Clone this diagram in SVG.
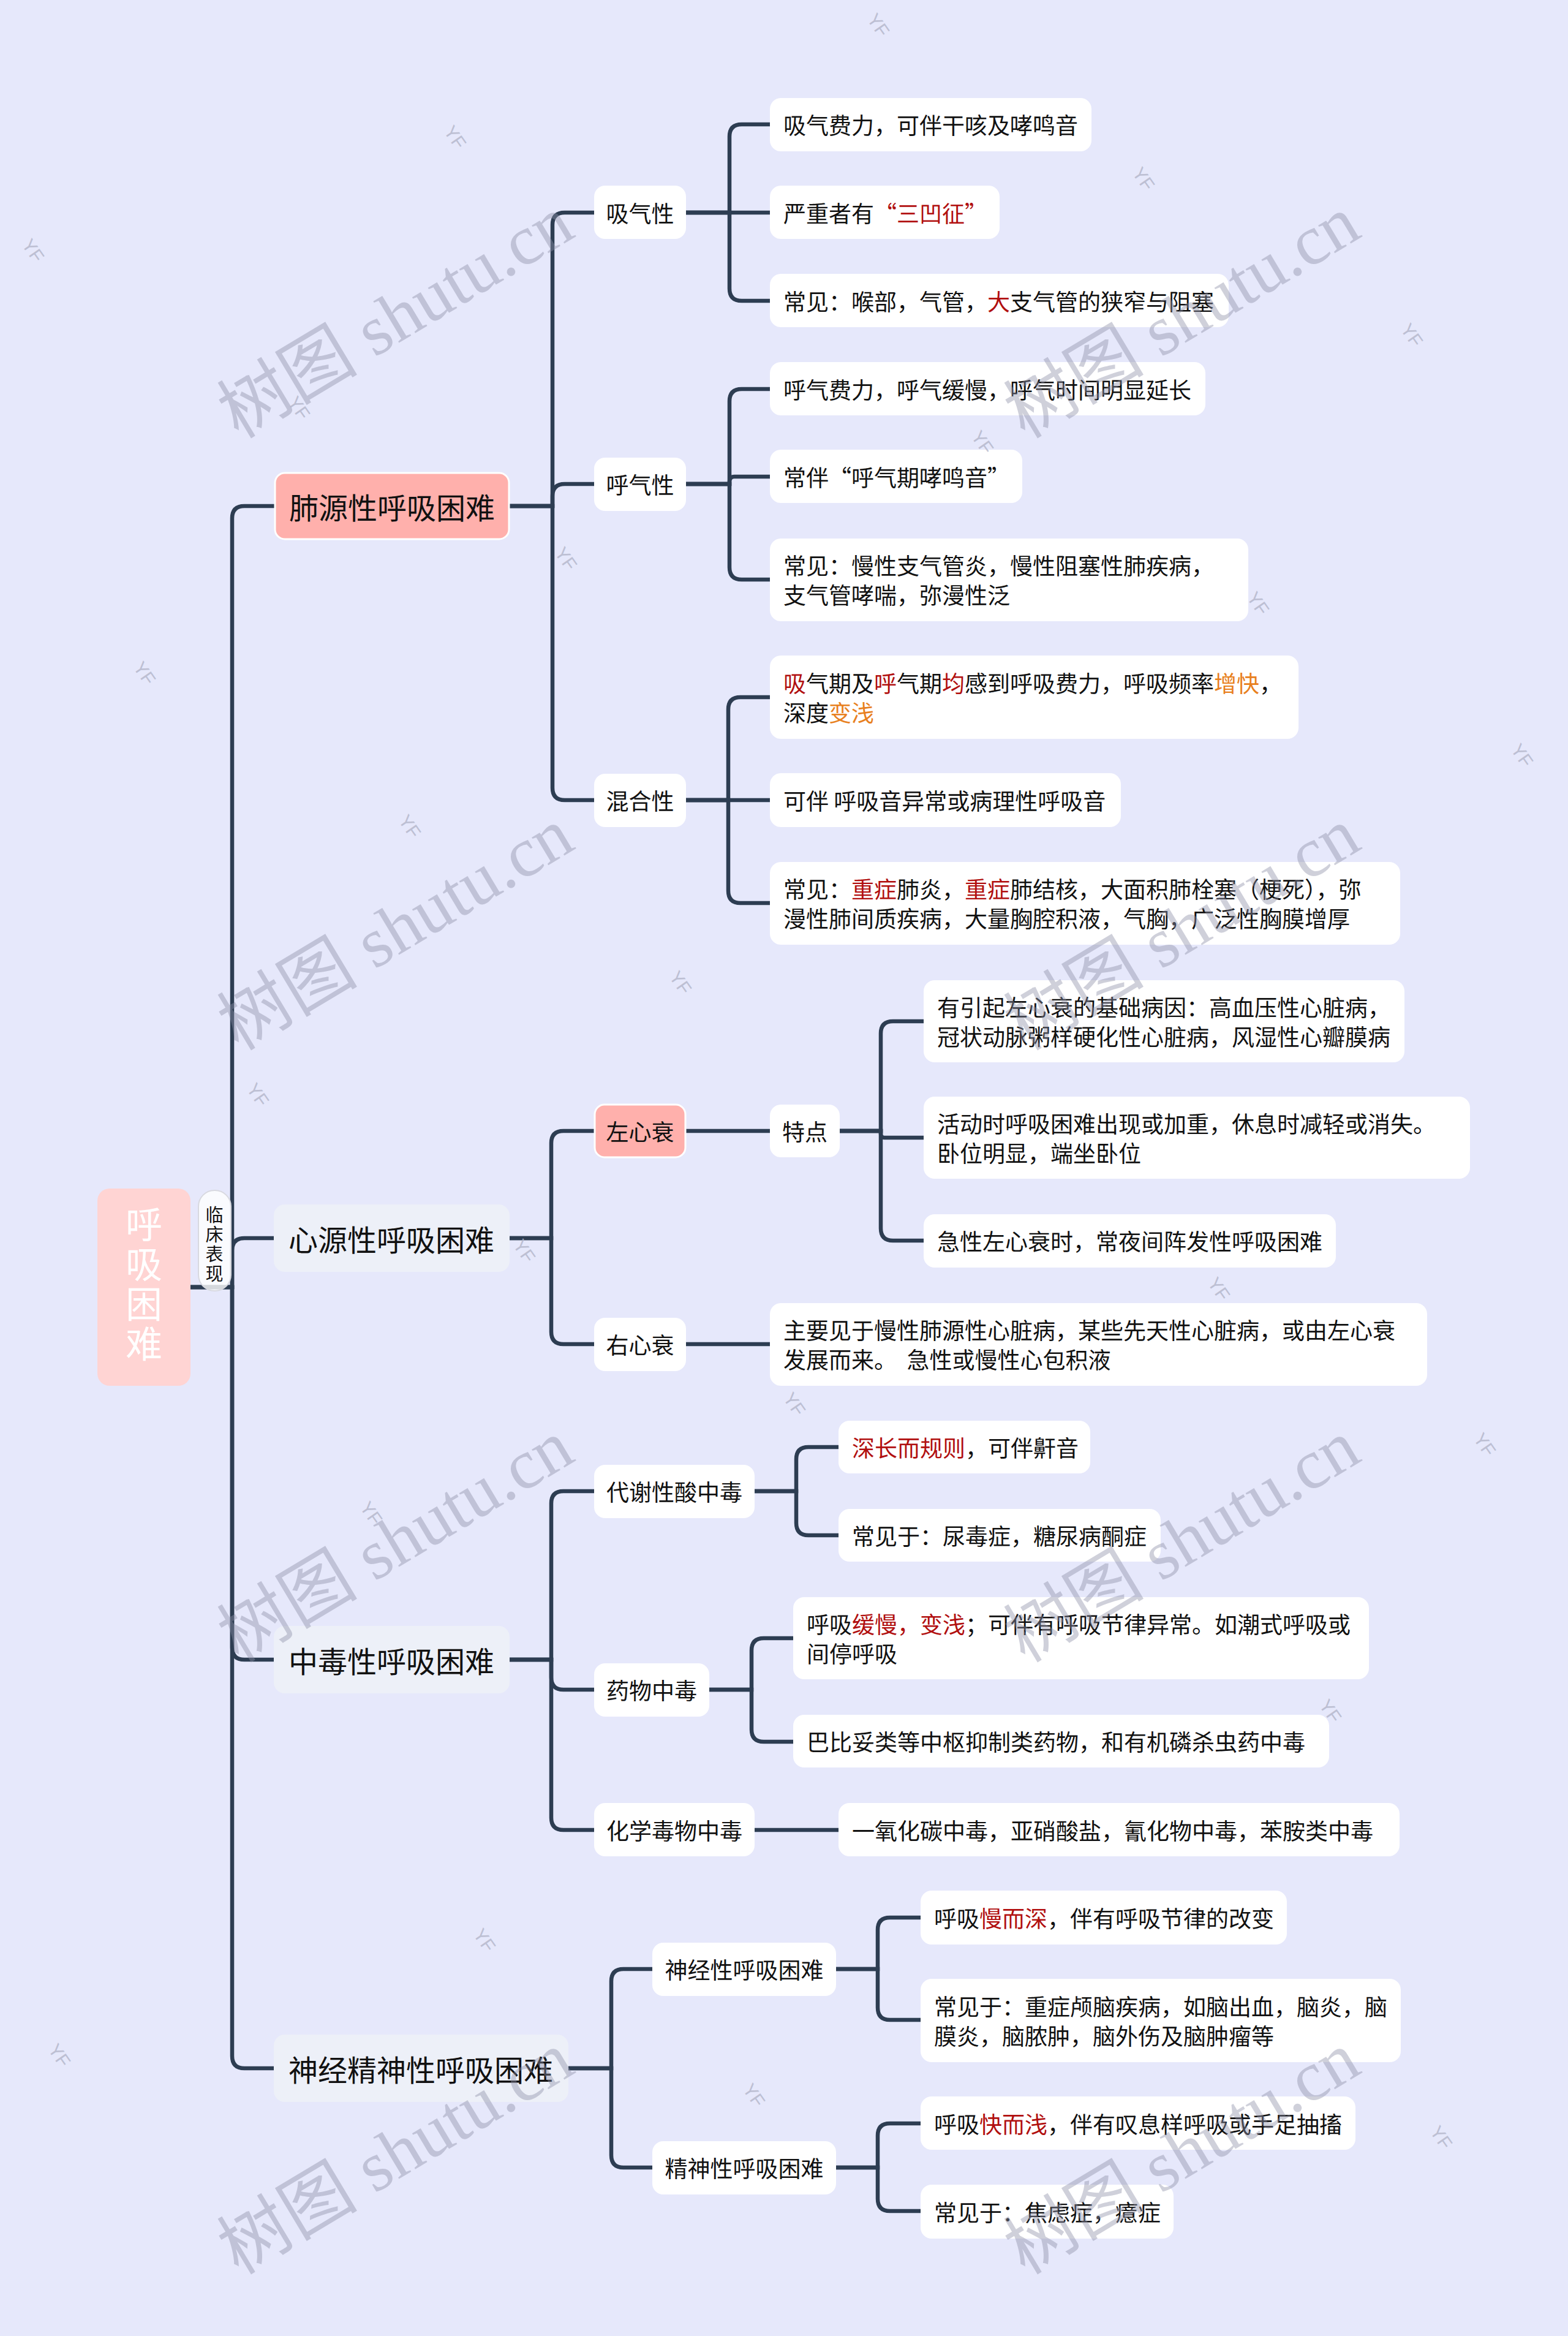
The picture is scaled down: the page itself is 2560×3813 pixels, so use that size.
<svg xmlns="http://www.w3.org/2000/svg" width="2560" height="3813" viewBox="0 0 2560 3813">
<style>
text{font-family:"Noto Sans CJK SC","Noto Sans",sans-serif;fill:#111;dominant-baseline:central}
.l1t{font-size:48px;text-anchor:middle}
.l2t{font-size:37px;text-anchor:middle}
.t{font-size:37px}
.r{fill:#b10f0f}
.o{fill:#e8801e}
.box{fill:#fff;rx:18px}
.pink{fill:#ffb0ac;stroke:#fff;stroke-width:3;rx:16px}
.gray{fill:#edf0f8;rx:18px}
.ln{fill:none;stroke:#2d3d52;stroke-width:6.5;stroke-linecap:butt}
.wm{font-family:"Liberation Serif","Noto Sans CJK SC",serif;font-size:115px;fill:#8e90a8;opacity:0.42;text-anchor:middle}
.yf{font-family:"Liberation Sans",sans-serif;font-size:30px;fill:#b3b6ca;opacity:0.8;text-anchor:middle}
.vt{writing-mode:vertical-rl;text-anchor:start}
</style>
<rect x="0" y="0" width="2560" height="3813" fill="#e6e8fb"/>

<g id="connectors">
<path class="ln" d="M311 2101 H379 V846 Q379 826 399 826 H449"/>
<path class="ln" d="M311 2101 H379 V2041 Q379 2021 399 2021 H447"/>
<path class="ln" d="M311 2101 H379 V2689 Q379 2709 399 2709 H447"/>
<path class="ln" d="M311 2101 H379 V3356 Q379 3376 399 3376 H447"/>
<path class="ln" d="M831 826 H902 V367 Q902 347 922 347 H970"/>
<path class="ln" d="M831 826 H902 V810 Q902 790 922 790 H970"/>
<path class="ln" d="M831 826 H902 V1286 Q902 1306 922 1306 H970"/>
<path class="ln" d="M1120 347 H1191 V223 Q1191 203 1211 203 H1257"/>
<path class="ln" d="M1120 347 H1257"/>
<path class="ln" d="M1120 347 H1191 V471 Q1191 491 1211 491 H1257"/>
<path class="ln" d="M1120 790 H1191 V655 Q1191 635 1211 635 H1257"/>
<path class="ln" d="M1120 790 H1191 V786 Q1191 778 1199 778 H1257"/>
<path class="ln" d="M1120 790 H1191 V926 Q1191 946 1211 946 H1257"/>
<path class="ln" d="M1120 1306 H1189 V1158 Q1189 1138 1209 1138 H1257"/>
<path class="ln" d="M1120 1306 H1257"/>
<path class="ln" d="M1120 1306 H1189 V1454 Q1189 1474 1209 1474 H1257"/>
<path class="ln" d="M832 2021 H900 V1866 Q900 1846 920 1846 H971"/>
<path class="ln" d="M832 2021 H900 V2174 Q900 2194 920 2194 H970"/>
<path class="ln" d="M1119 1846 H1257"/>
<path class="ln" d="M1371 1846 H1438 V1687 Q1438 1667 1458 1667 H1508"/>
<path class="ln" d="M1371 1846 H1438 V1851 Q1438 1857 1444 1857 H1508"/>
<path class="ln" d="M1371 1846 H1438 V2005 Q1438 2025 1458 2025 H1508"/>
<path class="ln" d="M1120 2194 H1257"/>
<path class="ln" d="M832 2709 H900 V2454 Q900 2434 920 2434 H970"/>
<path class="ln" d="M832 2709 H900 V2738 Q900 2758 920 2758 H970"/>
<path class="ln" d="M832 2709 H900 V2967 Q900 2987 920 2987 H970"/>
<path class="ln" d="M1232 2434 H1300 V2382 Q1300 2362 1320 2362 H1369"/>
<path class="ln" d="M1232 2434 H1300 V2486 Q1300 2506 1320 2506 H1369"/>
<path class="ln" d="M1158 2758 H1227 V2694 Q1227 2674 1247 2674 H1295"/>
<path class="ln" d="M1158 2758 H1227 V2823 Q1227 2843 1247 2843 H1295"/>
<path class="ln" d="M1232 2987 H1369"/>
<path class="ln" d="M928 3376 H998 V3234 Q998 3214 1018 3214 H1065"/>
<path class="ln" d="M928 3376 H998 V3518 Q998 3538 1018 3538 H1065"/>
<path class="ln" d="M1365 3214 H1433 V3150 Q1433 3130 1453 3130 H1503"/>
<path class="ln" d="M1365 3214 H1433 V3277 Q1433 3297 1453 3297 H1503"/>
<path class="ln" d="M1365 3538 H1433 V3486 Q1433 3466 1453 3466 H1503"/>
<path class="ln" d="M1365 3538 H1433 V3589 Q1433 3609 1453 3609 H1503"/>
</g>

<g id="root">
<rect x="159" y="1940" width="152" height="322" rx="20" fill="#ffd4d3"/>
<text class="vt" x="235" y="1968" style="font-size:60px;letter-spacing:5px;fill:#fff">呼吸困难</text>
</g>
<g id="label-linchuang">
<rect x="324" y="1943" width="53" height="164" rx="26" fill="#fff" fill-opacity="0.8" stroke="#d8d9e0" stroke-width="2"/>
<text class="vt" x="350" y="1968" style="font-size:29px;letter-spacing:3px">临床表现</text>
</g>

<g id="n-feiyuan"><rect class="pink" x="449" y="772" width="382" height="108"/><text class="l1t" x="640" y="826">肺源性呼吸困难</text></g>
<g id="n-xinyuan"><rect class="gray" x="447" y="1966" width="385" height="110"/><text class="l1t" x="639" y="2021">心源性呼吸困难</text></g>
<g id="n-zhongdu"><rect class="gray" x="447" y="2654" width="385" height="110"/><text class="l1t" x="639" y="2709">中毒性呼吸困难</text></g>
<g id="n-shenjing"><rect class="gray" x="447" y="3321" width="481" height="110"/><text class="l1t" x="687" y="3376">神经精神性呼吸困难</text></g>

<g id="n-xiqi"><rect class="box" x="970" y="303" width="150" height="87"/><text class="l2t" x="1045" y="347">吸气性</text></g>
<g id="n-huqi"><rect class="box" x="970" y="747" width="150" height="87"/><text class="l2t" x="1045" y="790">呼气性</text></g>
<g id="n-hunhe"><rect class="box" x="970" y="1263" width="150" height="87"/><text class="l2t" x="1045" y="1306">混合性</text></g>
<g id="n-zuoxin"><rect class="pink" x="971" y="1803" width="148" height="86"/><text class="l2t" x="1045" y="1846">左心衰</text></g>
<g id="n-tedian"><rect class="box" x="1257" y="1803" width="114" height="86"/><text class="l2t" x="1314" y="1846">特点</text></g>
<g id="n-youxin"><rect class="box" x="970" y="2151" width="150" height="87"/><text class="l2t" x="1045" y="2194">右心衰</text></g>
<g id="n-daixie"><rect class="box" x="970" y="2391" width="262" height="87"/><text class="l2t" x="1101" y="2434">代谢性酸中毒</text></g>
<g id="n-yaowu"><rect class="box" x="970" y="2715" width="188" height="87"/><text class="l2t" x="1064" y="2758">药物中毒</text></g>
<g id="n-huaxue"><rect class="box" x="970" y="2943" width="262" height="87"/><text class="l2t" x="1101" y="2987">化学毒物中毒</text></g>
<g id="n-shenjingxing"><rect class="box" x="1065" y="3171" width="300" height="87"/><text class="l2t" x="1215" y="3214">神经性呼吸困难</text></g>
<g id="n-jingshenxing"><rect class="box" x="1065" y="3495" width="300" height="87"/><text class="l2t" x="1215" y="3538">精神性呼吸困难</text></g>

<g id="leaf1"><rect class="box" x="1257" y="160" width="525" height="87"/><text class="t" x="1279" y="203">吸气费力，可伴干咳及哮鸣音</text></g>
<g id="leaf2"><rect class="box" x="1257" y="303" width="375" height="87"/><text class="t" x="1279" y="347">严重者有<tspan class="r">“三凹征”</tspan></text></g>
<g id="leaf3"><rect class="box" x="1257" y="447" width="749" height="87"/><text class="t" x="1279" y="491">常见：喉部，气管，<tspan class="r">大</tspan>支气管的狭窄与阻塞</text></g>
<g id="leaf4"><rect class="box" x="1257" y="591" width="711" height="87"/><text class="t" x="1279" y="635">呼气费力，呼气缓慢，呼气时间明显延长</text></g>
<g id="leaf5"><rect class="box" x="1257" y="734" width="412" height="87"/><text class="t" x="1279" y="778">常伴“呼气期哮鸣音”</text></g>
<g id="leaf6"><rect class="box" x="1257" y="879" width="781" height="135"/><text class="t" x="1279" y="922">常见：慢性支气管炎，慢性阻塞性肺疾病，</text><text class="t" x="1279" y="970">支气管哮喘，弥漫性泛</text></g>
<g id="leaf7"><rect class="box" x="1257" y="1070" width="863" height="136"/><text class="t" x="1279" y="1114"><tspan class="r">吸</tspan>气期及<tspan class="r">呼</tspan>气期<tspan class="r">均</tspan>感到呼吸费力，呼吸频率<tspan class="o">增快</tspan>，</text><text class="t" x="1279" y="1162">深度<tspan class="o">变浅</tspan></text></g>
<g id="leaf8"><rect class="box" x="1257" y="1262" width="573" height="88"/><text class="t" x="1279" y="1306">可伴 呼吸音异常或病理性呼吸音</text></g>
<g id="leaf9"><rect class="box" x="1257" y="1407" width="1029" height="135"/><text class="t" x="1279" y="1450">常见：<tspan class="r">重症</tspan>肺炎，<tspan class="r">重症</tspan>肺结核，大面积肺栓塞（梗死），弥</text><text class="t" x="1279" y="1498">漫性肺间质疾病，大量胸腔积液，气胸，广泛性胸膜增厚</text></g>
<g id="leaf10"><rect class="box" x="1508" y="1600" width="785" height="134"/><text class="t" x="1530" y="1643">有引起左心衰的基础病因：高血压性心脏病，</text><text class="t" x="1530" y="1691">冠状动脉粥样硬化性心脏病，风湿性心瓣膜病</text></g>
<g id="leaf11"><rect class="box" x="1508" y="1790" width="892" height="134"/><text class="t" x="1530" y="1833">活动时呼吸困难出现或加重，休息时减轻或消失。</text><text class="t" x="1530" y="1881">卧位明显，端坐卧位</text></g>
<g id="leaf12"><rect class="box" x="1508" y="1982" width="673" height="87"/><text class="t" x="1530" y="2025">急性左心衰时，常夜间阵发性呼吸困难</text></g>
<g id="leaf13"><rect class="box" x="1257" y="2127" width="1073" height="135"/><text class="t" x="1279" y="2170">主要见于慢性肺源性心脏病，某些先天性心脏病，或由左心衰</text><text class="t" x="1279" y="2218" xml:space="preserve">发展而来。  急性或慢性心包积液</text></g>
<g id="leaf14"><rect class="box" x="1369" y="2319" width="411" height="86"/><text class="t" x="1391" y="2362"><tspan class="r">深长而规则</tspan>，可伴鼾音</text></g>
<g id="leaf15"><rect class="box" x="1369" y="2463" width="526" height="86"/><text class="t" x="1391" y="2506">常见于：尿毒症，糖尿病酮症</text></g>
<g id="leaf16"><rect class="box" x="1295" y="2607" width="940" height="134"/><text class="t" x="1317" y="2650">呼吸<tspan class="r">缓慢，变浅</tspan>；可伴有呼吸节律异常。如潮式呼吸或</text><text class="t" x="1317" y="2698">间停呼吸</text></g>
<g id="leaf17"><rect class="box" x="1295" y="2799" width="875" height="86"/><text class="t" x="1317" y="2842">巴比妥类等中枢抑制类药物，和有机磷杀虫药中毒</text></g>
<g id="leaf18"><rect class="box" x="1369" y="2943" width="916" height="87"/><text class="t" x="1391" y="2987">一氧化碳中毒，亚硝酸盐，氰化物中毒，苯胺类中毒</text></g>
<g id="leaf19"><rect class="box" x="1503" y="3086" width="598" height="88"/><text class="t" x="1525" y="3130">呼吸<tspan class="r">慢而深</tspan>，伴有呼吸节律的改变</text></g>
<g id="leaf20"><rect class="box" x="1503" y="3230" width="784" height="136"/><text class="t" x="1525" y="3274">常见于：重症颅脑疾病，如脑出血，脑炎，脑</text><text class="t" x="1525" y="3322">膜炎，脑脓肿，脑外伤及脑肿瘤等</text></g>
<g id="leaf21"><rect class="box" x="1503" y="3422" width="710" height="87"/><text class="t" x="1525" y="3466">呼吸<tspan class="r">快而浅</tspan>，伴有叹息样呼吸或手足抽搐</text></g>
<g id="leaf22"><rect class="box" x="1503" y="3566" width="413" height="88"/><text class="t" x="1525" y="3610">常见于：焦虑症，癔症</text></g>

<g id="watermarks">
<text class="wm" transform="translate(646 518) rotate(-31)">树图 shutu.cn</text>
<text class="wm" transform="translate(1930 518) rotate(-31)">树图 shutu.cn</text>
<text class="wm" transform="translate(646 1517) rotate(-31)">树图 shutu.cn</text>
<text class="wm" transform="translate(1930 1517) rotate(-31)">树图 shutu.cn</text>
<text class="wm" transform="translate(646 2516) rotate(-31)">树图 shutu.cn</text>
<text class="wm" transform="translate(1930 2516) rotate(-31)">树图 shutu.cn</text>
<text class="wm" transform="translate(646 3515) rotate(-31)">树图 shutu.cn</text>
<text class="wm" transform="translate(1930 3515) rotate(-31)">树图 shutu.cn</text>
<text class="yf" transform="translate(1434 41) rotate(55)">YF</text>
<text class="yf" transform="translate(743 224) rotate(55)">YF</text>
<text class="yf" transform="translate(54 409) rotate(55)">YF</text>
<text class="yf" transform="translate(1867 292) rotate(55)">YF</text>
<text class="yf" transform="translate(2305 547) rotate(55)">YF</text>
<text class="yf" transform="translate(488 666) rotate(55)">YF</text>
<text class="yf" transform="translate(1604 722) rotate(55)">YF</text>
<text class="yf" transform="translate(924 912) rotate(55)">YF</text>
<text class="yf" transform="translate(2054 985) rotate(55)">YF</text>
<text class="yf" transform="translate(236 1099) rotate(55)">YF</text>
<text class="yf" transform="translate(2485 1233) rotate(55)">YF</text>
<text class="yf" transform="translate(669 1349) rotate(55)">YF</text>
<text class="yf" transform="translate(1111 1604) rotate(55)">YF</text>
<text class="yf" transform="translate(421 1787) rotate(55)">YF</text>
<text class="yf" transform="translate(1990 2104) rotate(55)">YF</text>
<text class="yf" transform="translate(856 2042) rotate(55)">YF</text>
<text class="yf" transform="translate(1297 2292) rotate(55)">YF</text>
<text class="yf" transform="translate(2424 2358) rotate(55)">YF</text>
<text class="yf" transform="translate(606 2470) rotate(55)">YF</text>
<text class="yf" transform="translate(2172 2793) rotate(55)">YF</text>
<text class="yf" transform="translate(791 3167) rotate(55)">YF</text>
<text class="yf" transform="translate(1231 3420) rotate(55)">YF</text>
<text class="yf" transform="translate(97 3355) rotate(55)">YF</text>
<text class="yf" transform="translate(2353 3489) rotate(55)">YF</text>
</g>
</svg>
